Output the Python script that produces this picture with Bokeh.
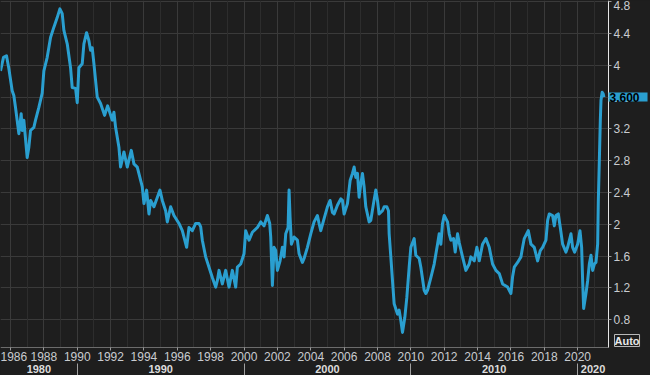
from bokeh.plotting import figure
from bokeh.models import (Range1d, LinearAxis, FixedTicker, Label, Grid,
                          CustomJSTickFormatter, BoxAnnotation)
from bokeh.embed import file_html
from bokeh.resources import INLINE

# ---- data (decimal year, value) ----
years = [
    1985.40, 1985.58, 1985.76, 1985.90, 1986.10, 1986.20, 1986.30, 1986.50, 1986.64, 1986.70,
    1986.80, 1987.00, 1987.10, 1987.20, 1987.40, 1987.50, 1987.70, 1987.90, 1988.00, 1988.20,
    1988.40, 1988.60, 1988.80, 1988.96, 1989.10, 1989.20, 1989.40, 1989.60, 1989.70, 1989.90,
    1990.00, 1990.10, 1990.30, 1990.40, 1990.56, 1990.70, 1990.80, 1990.90, 1991.00, 1991.20,
    1991.40, 1991.64, 1991.82, 1992.10, 1992.20, 1992.30, 1992.50, 1992.60, 1992.80, 1993.00,
    1993.24, 1993.40, 1993.60, 1993.90, 1994.00, 1994.16, 1994.30, 1994.40, 1994.60, 1994.96,
    1995.10, 1995.30, 1995.40, 1995.60, 1995.80, 1996.10, 1996.30, 1996.56, 1996.70, 1996.90,
    1997.10, 1997.30, 1997.40, 1997.50, 1997.70, 1997.90, 1998.10, 1998.30, 1998.40, 1998.50,
    1998.70, 1998.90, 1999.10, 1999.30, 1999.50, 1999.60, 1999.80, 2000.00, 2000.10, 2000.30,
    2000.50, 2000.80, 2001.00, 2001.20, 2001.40, 2001.54, 2001.60, 2001.70, 2001.80, 2001.90,
    2002.00, 2002.16, 2002.30, 2002.40, 2002.50, 2002.64, 2002.70, 2002.76, 2002.84, 2003.00,
    2003.20, 2003.30, 2003.50, 2003.60, 2003.80, 2004.00, 2004.20, 2004.40, 2004.50, 2004.60,
    2004.80, 2005.00, 2005.16, 2005.30, 2005.40, 2005.60, 2005.80, 2005.90, 2006.00, 2006.20,
    2006.36, 2006.50, 2006.60, 2006.70, 2006.80, 2006.90, 2007.00, 2007.10, 2007.20, 2007.30,
    2007.50, 2007.60, 2007.76, 2007.90, 2008.00, 2008.10, 2008.30, 2008.40, 2008.56, 2008.66,
    2008.70, 2008.80, 2008.90, 2009.00, 2009.20, 2009.30, 2009.40, 2009.50, 2009.64, 2009.76,
    2009.90, 2010.00, 2010.20, 2010.30, 2010.50, 2010.60, 2010.80, 2010.90, 2011.00, 2011.20,
    2011.40, 2011.60, 2011.70, 2011.80, 2011.90, 2012.00, 2012.20, 2012.30, 2012.40, 2012.56,
    2012.66, 2012.80, 2012.90, 2013.10, 2013.30, 2013.50, 2013.60, 2013.80, 2013.96, 2014.10,
    2014.30, 2014.50, 2014.70, 2014.90, 2015.10, 2015.30, 2015.50, 2015.80, 2016.00, 2016.10,
    2016.20, 2016.40, 2016.60, 2016.70, 2016.80, 2017.04, 2017.20, 2017.40, 2017.60, 2017.76,
    2017.90, 2018.10, 2018.20, 2018.30, 2018.50, 2018.60, 2018.70, 2018.84, 2018.96, 2019.10,
    2019.30, 2019.40, 2019.60, 2019.70, 2019.82, 2020.00, 2020.14, 2020.24, 2020.30, 2020.36,
    2020.50, 2020.60, 2020.70, 2020.80, 2020.90, 2021.00, 2021.10, 2021.20, 2021.24, 2021.30,
    2021.36, 2021.40, 2021.47, 2021.53, 2021.58,
]
values = [
    3.93, 4.10, 4.12, 3.96, 3.68, 3.62, 3.47, 3.14, 3.39, 3.18,
    3.31, 2.84, 2.97, 3.18, 3.22, 3.31, 3.47, 3.65, 3.93, 4.10,
    4.35, 4.48, 4.60, 4.71, 4.65, 4.44, 4.27, 3.97, 3.72, 3.71,
    3.53, 3.97, 4.02, 4.27, 4.41, 4.31, 4.19, 4.22, 4.02, 3.60,
    3.52, 3.37, 3.49, 3.31, 3.41, 3.22, 2.97, 2.72, 2.91, 2.72,
    2.93, 2.76, 2.72, 2.47, 2.26, 2.43, 2.13, 2.30, 2.22, 2.43,
    2.30, 2.17, 2.03, 2.22, 2.11, 2.01, 1.92, 1.71, 1.96, 1.92,
    2.01, 2.01, 1.97, 1.80, 1.59, 1.46, 1.33, 1.21, 1.29, 1.42,
    1.25, 1.42, 1.21, 1.42, 1.21, 1.46, 1.50, 1.63, 1.92, 1.80,
    1.90, 1.96, 2.03, 1.98, 2.11, 2.01, 1.84, 1.23, 1.71, 1.67,
    1.42, 1.54, 1.71, 1.59, 1.88, 1.96, 2.43, 2.09, 1.75, 1.84,
    1.80, 1.63, 1.52, 1.57, 1.71, 1.88, 2.03, 2.11, 2.01, 1.92,
    2.07, 2.22, 2.30, 2.15, 2.13, 2.24, 2.32, 2.30, 2.13, 2.26,
    2.55, 2.64, 2.72, 2.59, 2.64, 2.34, 2.51, 2.64, 2.47, 2.22,
    2.03, 2.05, 2.26, 2.43, 2.30, 2.13, 2.17, 2.22, 2.22, 2.17,
    1.88, 1.59, 1.29, 1.00, 0.87, 0.92, 0.79, 0.64, 0.83, 1.08,
    1.46, 1.71, 1.82, 1.61, 1.57, 1.46, 1.17, 1.13, 1.17, 1.33,
    1.50, 1.75, 1.88, 1.75, 2.01, 2.11, 2.03, 1.88, 1.80, 1.82,
    1.65, 1.88, 1.77, 1.59, 1.42, 1.50, 1.59, 1.54, 1.71, 1.54,
    1.75, 1.82, 1.71, 1.50, 1.42, 1.38, 1.25, 1.21, 1.13, 1.34,
    1.46, 1.52, 1.59, 1.71, 1.82, 1.92, 1.75, 1.71, 1.54, 1.67,
    1.71, 1.80, 2.05, 2.13, 2.11, 1.98, 2.11, 2.13, 1.96, 1.75,
    1.65, 1.71, 1.88, 1.71, 1.65, 1.75, 1.92, 1.71, 1.29, 0.94,
    1.13, 1.29, 1.50, 1.61, 1.42, 1.50, 1.52, 1.75, 2.30, 2.80,
    3.31, 3.56, 3.66, 3.64, 3.60,
]

year_ticks = list(range(1986, 2021, 2))
odd_years = list(range(1985, 2022, 2))
decades = [1980, 1990, 2000, 2010, 2020]
decade_labels = ["1980", "1990", "2000", "2010", "2020"]
value_ticks = [0.8, 1.2, 1.6, 2.0, 2.4, 2.8, 3.2, 3.6, 4.0, 4.4, 4.8]

# visible data window (plot area) and overall canvas
X0, X1 = 1985.40, 2021.85
Y0, Y1 = 0.45, 4.815
W, H = 650, 375
PLOT_W, PLOT_H = 608, 347
X_END = X0 + (X1 - X0) * W / PLOT_W          # canvas right edge in data units
Y_START = Y1 - (Y1 - Y0) * H / PLOT_H        # canvas bottom edge in data units

BG = "#1e1e1e"
LINE = "#2a9fd0"
TXT = "#c9ccd0"
FONT = "'Liberation Sans Narrow', 'Liberation Sans', Arial, sans-serif"
BOLD_FONT = "'Liberation Sans', Arial, sans-serif"

p = figure(width=W, height=H, output_backend="svg", toolbar_location=None,
           x_range=Range1d(X0, X_END), y_range=Range1d(Y_START, Y1),
           y_axis_location="right", min_border=0,
           background_fill_color=BG, border_fill_color=BG, outline_line_color=None)

# grids
p.ygrid.ticker = FixedTicker(ticks=value_ticks)
p.ygrid.grid_line_color = "#3a3a3a"
p.xgrid.ticker = FixedTicker(ticks=year_ticks)
p.xgrid.grid_line_color = "#3a3a3a"
p.add_layout(Grid(dimension=0, ticker=FixedTicker(ticks=odd_years),
                  grid_line_color="#2d2d2d"))
# keep grid lines inside the plot area only
p.add_layout(BoxAnnotation(left=X1, fill_color=BG, fill_alpha=1, line_color=None, level="underlay"))
p.add_layout(BoxAnnotation(top=Y0, fill_color=BG, fill_alpha=1, line_color=None, level="underlay"))

# line
p.line(years, values, line_color=LINE, line_width=3, line_join="round")

# right axis (drawn at the plot-area edge)
ya = p.yaxis[0]
ya.fixed_location = X1
ya.bounds = (Y0, Y1)
ya.ticker = FixedTicker(ticks=value_ticks)
ya.formatter = CustomJSTickFormatter(code="return tick.toFixed(1).replace(/\\.0$/, '');")
ya.axis_line_color = "#e6e6e6"
ya.major_tick_line_color = "#9a9a9a"
ya.major_tick_out = 3
ya.major_tick_in = 0
ya.minor_tick_line_color = None
ya.major_label_standoff = 2
ya.major_label_text_color = TXT
ya.major_label_text_font = FONT
ya.major_label_text_font_size = "12px"

# bottom axis: years
xa = p.xaxis[0]
xa.fixed_location = Y0
xa.bounds = (X0, X1)
xa.ticker = FixedTicker(ticks=year_ticks)
xa.formatter = CustomJSTickFormatter(code="return tick.toFixed(0);")
xa.axis_line_color = "#6c6c6c"
xa.major_tick_line_color = "#9a9a9a"
xa.major_tick_out = 3
xa.major_tick_in = 0
xa.minor_tick_line_color = None
xa.major_label_standoff = 1
xa.major_label_text_color = TXT
xa.major_label_text_font = FONT
xa.major_label_text_font_size = "12px"

# bottom axis: decades (labels centred in the visible part of each decade,
# separators at the decade boundaries)
centers = [(max(d, X0) + min(d + 10, X1)) / 2 for d in decades]
dec_axis = LinearAxis(
    fixed_location=Y0,
    ticker=FixedTicker(ticks=centers, minor_ticks=decades[1:]),
    formatter=CustomJSTickFormatter(args=dict(names=decade_labels), code="return names[index];"),
    axis_line_color=None, major_tick_line_color=None, major_tick_out=0, major_tick_in=0,
    minor_tick_line_color="#a0a0a0", minor_tick_in=-16, minor_tick_out=28,
    major_label_standoff=-11, major_label_text_color="#dcdcdc",
    major_label_text_font=BOLD_FONT,
    major_label_text_font_style="bold", major_label_text_font_size="11px")
p.add_layout(dec_axis, "below")

# last value tag
tag_kw = dict(x=X1, y=values[-1], text=f"{values[-1]:.3f}",
              text_align="left", text_baseline="middle",
              text_color="#000000", text_font_style="bold", text_font_size="12px",
              text_font=BOLD_FONT, background_fill_color=LINE)
try:
    tag = Label(padding=dict(left=1, right=8, top=0, bottom=0), **tag_kw)
except Exception:
    tag = Label(padding=1, **tag_kw)
p.add_layout(tag)

# "Auto" tag
p.add_layout(Label(x=X1, y=Y0, text="Auto", x_offset=6, y_offset=1,
                   text_align="left", text_baseline="bottom",
                   text_color="#e8e8e8", text_font_style="bold", text_font_size="11px",
                   text_font=BOLD_FONT,
                   border_line_color="#b8b8b8", border_line_width=1,
                   background_fill_color=BG))

html = file_html(p, INLINE)
html = html.replace("<head>", "<head><style>html,body{margin:0;padding:0;background:#1e1e1e;overflow:hidden}</style>", 1)
open("out.html", "w").write(html)
